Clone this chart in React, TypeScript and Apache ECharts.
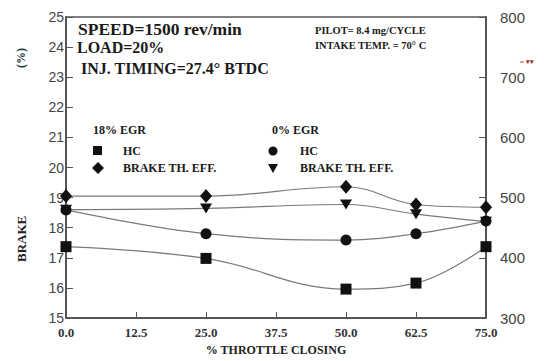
import React, { useEffect, useRef } from "react";
import * as echarts from "echarts";

const throttle = [0, 25, 50, 62.5, 75];
const hc18 = [418.5, 399, 348, 358, 418.5];
const eff18 = [19.05, 19.05, 19.36, 18.77, 18.68];
const hc0 = [479.5, 440, 429.5, 440, 461];
const eff0 = [18.6, 18.64, 18.77, 18.45, 18.2];
const leftTicks = [15, 25, 1];
const rightTicks = [300, 800, 100];
const xTicks = [0, 75, 12.5];

const serif = "Liberation Serif";
const sans = "Liberation Sans";

function pts(vals: number[]) {
  return throttle.map((x, i) => [x, vals[i]]);
}

export default function App() {
  const ref = useRef<HTMLDivElement>(null);
  useEffect(() => {
    const chart = echarts.init(ref.current!, null, { renderer: "svg" });
    const lineStyle = { color: "#7a7a7a", width: 1.2 };
    const base = {
      type: "line",
      smooth: 0.4,
      lineStyle,
      itemStyle: { color: "#111" },
      z: 3,
    };
    const lbl = (text: string, x: number, y: number, size: number, extra: any = {}) => ({
      type: "text",
      left: x,
      top: y,
      style: { text, font: `bold ${size}px "${serif}"`, fill: "#1a1a1a", ...extra },
    });
    chart.setOption({
      animation: false,
      backgroundColor: "#fff",
      grid: { left: 66, right: 58, top: 17, bottom: 42, show: true, borderColor: "#555", borderWidth: 1.5, backgroundColor: "transparent" },
      xAxis: {
        type: "value",
        min: xTicks[0],
        max: xTicks[1],
        interval: xTicks[2],
        axisLine: { lineStyle: { color: "#555", width: 2 } },
        axisTick: { inside: true, length: 6, lineStyle: { color: "#555" } },
        splitLine: { show: false },
        axisLabel: {
          formatter: (v: number) => v.toFixed(1),
          fontFamily: serif,
          fontWeight: "bold",
          fontSize: 13,
          color: "#333",
          margin: 8,
        },
        name: "% THROTTLE CLOSING",
        nameLocation: "middle",
        nameGap: 26,
        nameTextStyle: { fontFamily: serif, fontWeight: "bold", fontSize: 12, color: "#222" },
      },
      yAxis: [
        {
          type: "value",
          min: leftTicks[0],
          max: leftTicks[1],
          interval: leftTicks[2],
          axisLine: { show: true, lineStyle: { color: "#555", width: 2 } },
          axisTick: { show: true, inside: true, length: 7, lineStyle: { color: "#555" } },
          splitLine: { show: false },
          axisLabel: { fontFamily: sans, fontSize: 14, color: "#444", margin: 2 },
        },
        {
          type: "value",
          position: "right",
          min: rightTicks[0],
          max: rightTicks[1],
          interval: rightTicks[2],
          axisLine: { show: true, lineStyle: { color: "#555", width: 2 } },
          axisTick: { show: true, inside: true, length: 7, lineStyle: { color: "#555" } },
          splitLine: { show: false },
          axisLabel: { fontFamily: sans, fontSize: 15, color: "#444", margin: 14 },
        },
      ],
      series: [
        { ...base, name: "HC 18% EGR", yAxisIndex: 1, data: pts(hc18), symbol: "rect", symbolSize: 11 },
        { ...base, name: "BRAKE TH. EFF. 18% EGR", yAxisIndex: 0, data: pts(eff18), symbol: "diamond", symbolSize: [12, 14] },
        { ...base, name: "HC 0% EGR", yAxisIndex: 1, data: pts(hc0), symbol: "circle", symbolSize: 11 },
        { ...base, name: "BRAKE TH. EFF. 0% EGR", yAxisIndex: 0, data: pts(eff0), symbol: "triangle", symbolRotate: 180, symbolSize: [12, 10] },
      ],
      graphic: [
        lbl("SPEED=1500 rev/min", 78, 20, 17.5),
        lbl("LOAD=20%", 77, 39, 16),
        lbl("INJ. TIMING=27.4° BTDC", 81, 60, 16),
        lbl("PILOT= 8.4 mg/CYCLE", 315, 25, 10.5),
        lbl("INTAKE TEMP. = 70° C", 315, 40, 10.5),
        lbl("18% EGR", 93, 124, 12),
        lbl("HC", 123, 145, 12),
        lbl("BRAKE TH. EFF.", 123, 162, 12),
        lbl("0% EGR", 272, 124, 12),
        lbl("HC", 300, 145, 12),
        lbl("BRAKE TH. EFF.", 300, 162, 12),
        { type: "rect", shape: { x: 93, y: 146, width: 9, height: 9 }, style: { fill: "#111" } },
        { type: "polygon", shape: { points: [[98, 162], [104, 168], [98, 174], [92, 168]] }, style: { fill: "#111" } },
        { type: "circle", shape: { cx: 273, cy: 151, r: 4.5 }, style: { fill: "#111" } },
        { type: "polygon", shape: { points: [[268, 164], [278, 164], [273, 173]] }, style: { fill: "#111" } },
        {
          type: "text",
          x: 15,
          y: 262,
          rotation: Math.PI / 2,
          style: { text: "BRAKE", font: `bold 13px "${serif}"`, fill: "#222" },
        },
        {
          type: "text",
          x: 15,
          y: 68,
          rotation: Math.PI / 2,
          style: { text: "(%)", font: `bold 12px "${serif}"`, fill: "#1d3b3b" },
        },
        lbl("= ▾▾", 520, 58, 7, { fill: "#a33" }),
      ],
    });
    return () => chart.dispose();
  }, []);
  return <div ref={ref} style={{ width: 544, height: 361, position: "absolute", left: 0, top: 0 }} />;
}
